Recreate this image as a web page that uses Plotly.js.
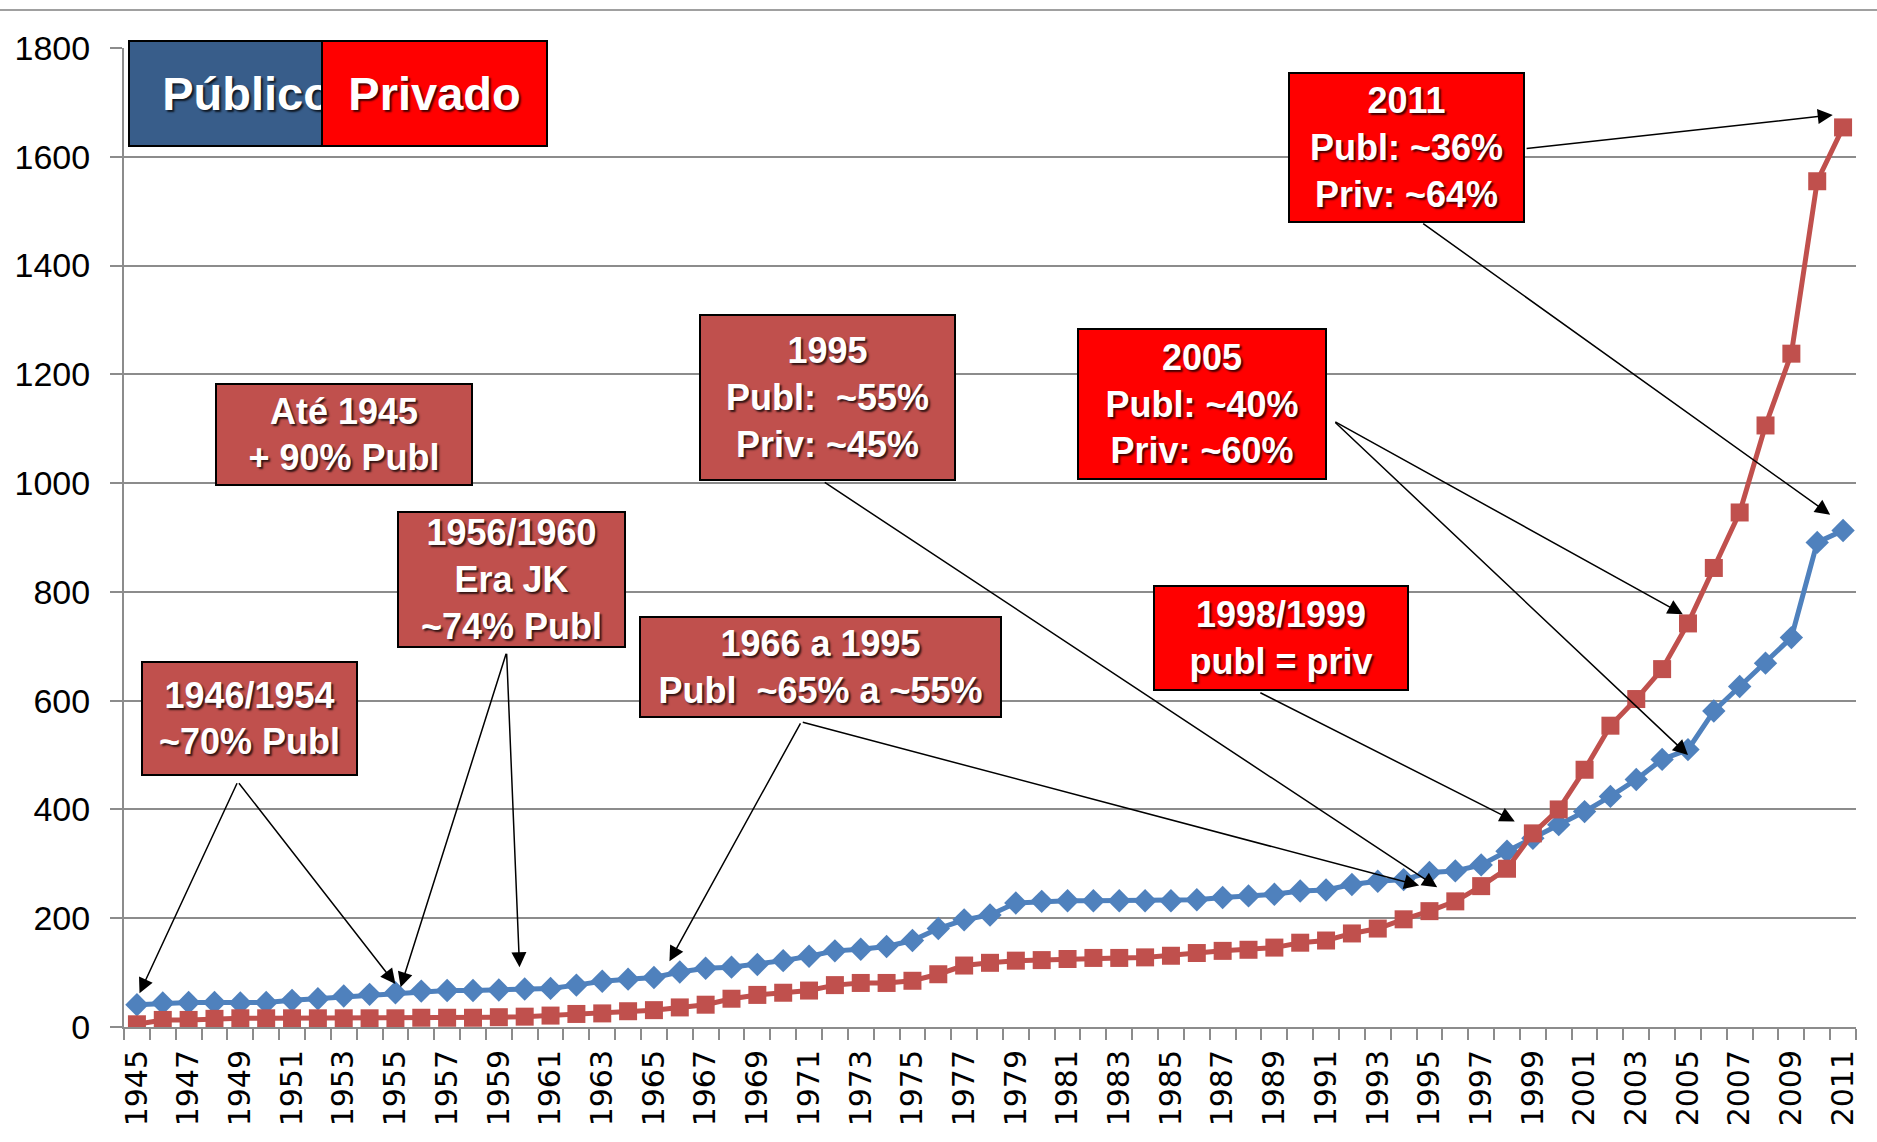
<!DOCTYPE html>
<html>
<head>
<meta charset="utf-8">
<script src="https://cdn.plot.ly/plotly-3.0.1.min.js"></script>
<style>html,body{margin:0;padding:0;background:#fff;}#chart{width:1877px;height:1142px;}</style>
</head>
<body>
<div id="chart"></div>
<script>
// ---- DATA ----
const years = [1945,1946,1947,1948,1949,1950,1951,1952,1953,1954,1955,1956,1957,1958,1959,1960,
  1961,1962,1963,1964,1965,1966,1967,1968,1969,1970,1971,1972,1973,1974,1975,1976,1977,1978,1979,
  1980,1981,1982,1983,1984,1985,1986,1987,1988,1989,1990,1991,1992,1993,1994,1995,1996,1997,1998,
  1999,2000,2001,2002,2003,2004,2005,2006,2007,2008,2009,2010,2011];
const publico = [41,44,45,45,44,45,49,52,57,60,63,66,67,67,68,70,
  71,77,84,88,91,101,108,110,115,122,130,140,143,148,159,181,197,206,228,
  231,232,232,232,232,232,234,238,241,244,250,252,262,268,271,284,287,298,323,
  347,372,396,424,455,492,510,581,626,669,716,891,913];
const privado = [5,13,13,15,16,16,16,16,16,16,16,17,17,17,18,19,
  21,24,25,29,31,36,41,52,59,63,67,77,81,81,85,97,113,118,122,
  123,125,127,127,128,131,136,140,142,146,155,159,172,181,198,213,231,259,291,
  356,400,473,554,603,658,742,844,946,1106,1238,1555,1654];
const yTicks = [0,200,400,600,800,1000,1200,1400,1600,1800];
const xTickLabels = [1945,1947,1949,1951,1953,1955,1957,1959,1961,1963,1965,1967,1969,1971,1973,
  1975,1977,1979,1981,1983,1985,1987,1989,1991,1993,1995,1997,1999,2001,2003,2005,2007,2009,2011];
const legendNames = ['Público','Privado'];
const callouts = [
  'Até 1945<br>+ 90% Publ',
  '1946/1954<br>~70% Publ',
  '1956/1960<br>Era JK<br>~74% Publ',
  '1966 a 1995<br>Publ&nbsp; ~65% a ~55%',
  '1995<br>Publ:&nbsp; ~55%<br>Priv: ~45%',
  '2005<br>Publ: ~40%<br>Priv: ~60%',
  '1998/1999<br>publ = priv',
  '2011<br>Publ: ~36%<br>Priv: ~64%'
];

// ---- LAYOUT HELPERS ----
const W = 1877, H = 1142;
const M = {l:124, r:21, t:48, b:115, pad:0};
const PX = x => (x - M.l) / (W - M.l - M.r);
const PY = y => (H - M.b - y) / (H - M.t - M.b);

const BLUE = '#4F81BD', RED = '#C0504D', DARKRED = '#C0504D', BRIGHT = '#FF0000', LEGBLUE = '#385D8A';
const GRID = '#8C8C8C';
const shadow = '2px 2px 2px rgba(0,0,0,0.75)';

const boxGeom = [
  {cx:344, cy:434.5, w:258, h:103, c:DARKRED},
  {cx:249.5, cy:718.5, w:217, h:115, c:DARKRED},
  {cx:511.5, cy:579.5, w:229, h:137, c:DARKRED},
  {cx:820.5, cy:667, w:363, h:102, c:DARKRED},
  {cx:827.5, cy:397.5, w:257, h:167, c:DARKRED},
  {cx:1202, cy:404, w:250, h:152, c:BRIGHT},
  {cx:1281, cy:638, w:256, h:106, c:BRIGHT},
  {cx:1406.5, cy:147.5, w:237, h:151, c:BRIGHT}
];

const annotations = [];
// legend boxes
annotations.push({xref:'paper', yref:'paper', x:PX(247), y:PY(93.5), xanchor:'center', yanchor:'middle',
  width:234, height:103, bgcolor:LEGBLUE, bordercolor:'#000', borderwidth:2, borderpad:0, showarrow:false,
  text:legendNames[0], font:{family:'Liberation Sans, Arial, sans-serif', size:47, color:'#fff', weight:'bold', shadow:shadow}});
annotations.push({xref:'paper', yref:'paper', x:PX(434.5), y:PY(93.5), xanchor:'center', yanchor:'middle',
  width:223, height:103, bgcolor:BRIGHT, bordercolor:'#000', borderwidth:2, borderpad:0, showarrow:false,
  text:legendNames[1], font:{family:'Liberation Sans, Arial, sans-serif', size:47, color:'#fff', weight:'bold', shadow:shadow}});

boxGeom.forEach((b, i) => {
  annotations.push({xref:'paper', yref:'paper', x:PX(b.cx), y:PY(b.cy), xanchor:'center', yanchor:'middle',
    width:b.w - 4, height:b.h - 4, bgcolor:b.c, bordercolor:'#000', borderwidth:2, borderpad:0, showarrow:false,
    text:callouts[i], align:'center',
    font:{family:'Liberation Sans, Arial, sans-serif', size:36, color:'#fff', weight:'bold', shadow:shadow}});
});

// arrows: [tailX, tailY, headX, headY] in data units
const arrows = [
  [1948.9, 451, 1945.1, 62],
  [1948.9, 451, 1955.0, 79],
  [1959.3, 689, 1955.2, 73],
  [1959.3, 689, 1959.8, 110],
  [1970.7, 561, 1965.6, 121],
  [1970.7, 561, 1994.6, 260],
  [1971.55, 1003, 1995.3, 257],
  [1988.4, 616, 1998.3, 378],
  [1991.3, 1114, 2004.8, 759],
  [1991.3, 1114, 2005.0, 500],
  [1998.7, 1615, 2010.6, 1677],
  [1994.7, 1479, 2010.5, 942]
];
arrows.forEach(a => {
  annotations.push({xref:'x', yref:'y', axref:'x', ayref:'y', ax:a[0], ay:a[1], x:a[2], y:a[3],
    text:'', showarrow:true, arrowhead:2, arrowsize:2, arrowwidth:1.5, arrowcolor:'#000', standoff:0, startstandoff:0});
});

const traces = [
  {x:years, y:publico, type:'scatter', mode:'lines+markers', name:legendNames[0],
   line:{color:BLUE, width:5}, marker:{symbol:'diamond', size:18, color:BLUE}},
  {x:years, y:privado, type:'scatter', mode:'lines+markers', name:legendNames[1],
   line:{color:RED, width:5}, marker:{symbol:'square', size:18, color:RED}}
];

const layout = {
  width:W, height:H, margin:M, showlegend:false,
  paper_bgcolor:'#fff', plot_bgcolor:'#fff',
  xaxis:{type:'linear', range:[1944.5, 2011.5], tickmode:'array', tickvals:xTickLabels,
    ticktext:xTickLabels.map(String), ticks:'', tickangle:-90, showgrid:false, zeroline:false,
    showline:true, linecolor:GRID, linewidth:2, ticklabelstandoff:9,
    tickfont:{family:'DejaVu Sans, sans-serif', size:30, color:'#000'},
    minor:{tick0:1944.5, dtick:1, ticks:'outside', ticklen:11, tickwidth:2, tickcolor:GRID, showgrid:false}},
  yaxis:{range:[0,1800], tickmode:'array', tickvals:yTicks, ticks:'outside', ticklen:12, tickwidth:2,
    tickcolor:GRID, showgrid:true, gridcolor:GRID, gridwidth:2, zeroline:false, showline:true,
    linecolor:GRID, linewidth:2, ticklabelstandoff:13,
    tickfont:{family:'Liberation Sans, Arial, sans-serif', size:34, color:'#000'}},
  shapes:[{type:'line', xref:'paper', yref:'paper', x0:PX(0), x1:PX(W), y0:PY(10), y1:PY(10),
    line:{color:'#A0A0A0', width:2}}],
  annotations:annotations
};

Plotly.newPlot('chart', traces, layout, {displayModeBar:false, staticPlot:true});
</script>
</body>
</html>
